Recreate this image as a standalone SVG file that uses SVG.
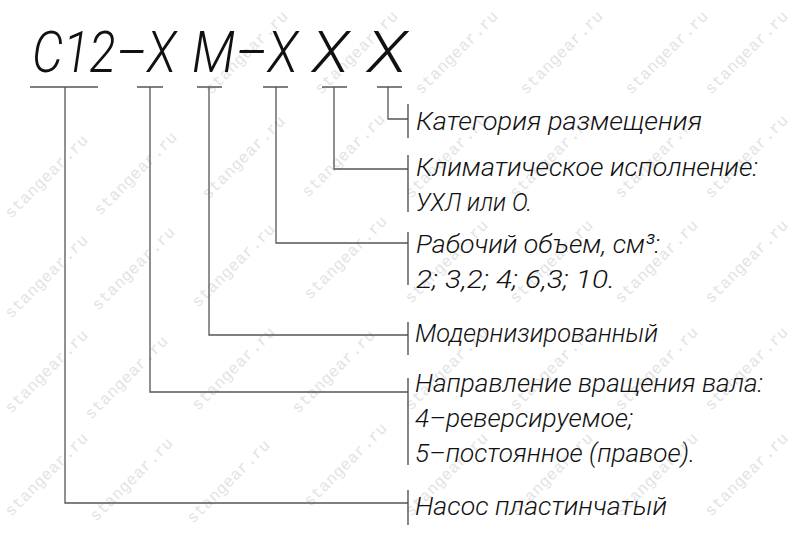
<svg xmlns="http://www.w3.org/2000/svg" width="800" height="555" viewBox="0 0 800 555">
<style>
.wm{font-family:"Liberation Mono","DejaVu Sans Mono",monospace;font-size:16px;fill:#e3e3e3}
.ttl{font-family:Roboto,"Liberation Sans",Arial,sans-serif;font-style:italic;font-weight:300;font-size:58px;fill:#111}
.t{font-family:Roboto,"Liberation Sans",Arial,sans-serif;font-style:italic;font-weight:300;font-size:26.5px;fill:#111}
.ln{stroke:#555;stroke-width:1.3;fill:none}
.bar{stroke:#444;stroke-width:1.3;fill:none}
</style>
<rect width="800" height="555" fill="#fff"/>
<g id="watermarks">
<text class="wm" x="250" y="56" text-anchor="middle" textLength="110" transform="rotate(-45 250 56)">stangear.ru</text>
<text class="wm" x="360" y="56" text-anchor="middle" textLength="110" transform="rotate(-45 360 56)">stangear.ru</text>
<text class="wm" x="460" y="56" text-anchor="middle" textLength="110" transform="rotate(-45 460 56)">stangear.ru</text>
<text class="wm" x="565" y="56" text-anchor="middle" textLength="110" transform="rotate(-45 565 56)">stangear.ru</text>
<text class="wm" x="670" y="56" text-anchor="middle" textLength="110" transform="rotate(-45 670 56)">stangear.ru</text>
<text class="wm" x="750" y="56" text-anchor="middle" textLength="110" transform="rotate(-45 750 56)">stangear.ru</text>
<text class="wm" x="50" y="180" text-anchor="middle" textLength="110" transform="rotate(-45 50 180)">stangear.ru</text>
<text class="wm" x="139" y="177" text-anchor="middle" textLength="110" transform="rotate(-45 139 177)">stangear.ru</text>
<text class="wm" x="247" y="161" text-anchor="middle" textLength="110" transform="rotate(-45 247 161)">stangear.ru</text>
<text class="wm" x="347" y="159" text-anchor="middle" textLength="110" transform="rotate(-45 347 159)">stangear.ru</text>
<text class="wm" x="450" y="160" text-anchor="middle" textLength="110" transform="rotate(-45 450 160)">stangear.ru</text>
<text class="wm" x="555" y="160" text-anchor="middle" textLength="110" transform="rotate(-45 555 160)">stangear.ru</text>
<text class="wm" x="660" y="160" text-anchor="middle" textLength="110" transform="rotate(-45 660 160)">stangear.ru</text>
<text class="wm" x="750" y="160" text-anchor="middle" textLength="110" transform="rotate(-45 750 160)">stangear.ru</text>
<text class="wm" x="50" y="280" text-anchor="middle" textLength="110" transform="rotate(-45 50 280)">stangear.ru</text>
<text class="wm" x="137" y="272" text-anchor="middle" textLength="110" transform="rotate(-45 137 272)">stangear.ru</text>
<text class="wm" x="237" y="269" text-anchor="middle" textLength="110" transform="rotate(-45 237 269)">stangear.ru</text>
<text class="wm" x="349" y="261" text-anchor="middle" textLength="110" transform="rotate(-45 349 261)">stangear.ru</text>
<text class="wm" x="450" y="265" text-anchor="middle" textLength="110" transform="rotate(-45 450 265)">stangear.ru</text>
<text class="wm" x="555" y="265" text-anchor="middle" textLength="110" transform="rotate(-45 555 265)">stangear.ru</text>
<text class="wm" x="660" y="265" text-anchor="middle" textLength="110" transform="rotate(-45 660 265)">stangear.ru</text>
<text class="wm" x="750" y="265" text-anchor="middle" textLength="110" transform="rotate(-45 750 265)">stangear.ru</text>
<text class="wm" x="50" y="375" text-anchor="middle" textLength="110" transform="rotate(-45 50 375)">stangear.ru</text>
<text class="wm" x="130" y="381" text-anchor="middle" textLength="110" transform="rotate(-45 130 381)">stangear.ru</text>
<text class="wm" x="237" y="372" text-anchor="middle" textLength="110" transform="rotate(-45 237 372)">stangear.ru</text>
<text class="wm" x="337" y="375" text-anchor="middle" textLength="110" transform="rotate(-45 337 375)">stangear.ru</text>
<text class="wm" x="450" y="372" text-anchor="middle" textLength="110" transform="rotate(-45 450 372)">stangear.ru</text>
<text class="wm" x="555" y="372" text-anchor="middle" textLength="110" transform="rotate(-45 555 372)">stangear.ru</text>
<text class="wm" x="660" y="372" text-anchor="middle" textLength="110" transform="rotate(-45 660 372)">stangear.ru</text>
<text class="wm" x="750" y="372" text-anchor="middle" textLength="110" transform="rotate(-45 750 372)">stangear.ru</text>
<text class="wm" x="50" y="478" text-anchor="middle" textLength="110" transform="rotate(-45 50 478)">stangear.ru</text>
<text class="wm" x="135" y="483" text-anchor="middle" textLength="110" transform="rotate(-45 135 483)">stangear.ru</text>
<text class="wm" x="232" y="485" text-anchor="middle" textLength="110" transform="rotate(-45 232 485)">stangear.ru</text>
<text class="wm" x="349" y="468" text-anchor="middle" textLength="110" transform="rotate(-45 349 468)">stangear.ru</text>
<text class="wm" x="450" y="478" text-anchor="middle" textLength="110" transform="rotate(-45 450 478)">stangear.ru</text>
<text class="wm" x="555" y="478" text-anchor="middle" textLength="110" transform="rotate(-45 555 478)">stangear.ru</text>
<text class="wm" x="660" y="478" text-anchor="middle" textLength="110" transform="rotate(-45 660 478)">stangear.ru</text>
<text class="wm" x="750" y="478" text-anchor="middle" textLength="110" transform="rotate(-45 750 478)">stangear.ru</text>
</g>
<g id="title">
<text class="ttl" x="32" y="72" textLength="144" lengthAdjust="spacingAndGlyphs">С12–Х</text>
<text class="ttl" x="192" y="72" textLength="106" lengthAdjust="spacingAndGlyphs">М–Х</text>
<text class="ttl" x="312" y="72" textLength="37" lengthAdjust="spacingAndGlyphs">Х</text>
<text class="ttl" x="367" y="72" textLength="40" lengthAdjust="spacingAndGlyphs">Х</text>
</g>
<g id="connectors" class="ln">
<path d="M30 87H98M137 87H163M197 87H222M263 87H288M322 87H347M377 87H402"/>
<path d="M388 87V119H408"/>
<path d="M334 87V169H408"/>
<path d="M276 87V243H408"/>
<path d="M209 87V335H408"/>
<path d="M150 87V392H408"/>
<path d="M65 87V503H408"/>
</g>
<g id="node-category">
<line class="bar" x1="408" y1="104" x2="408" y2="138"/>
<text class="t" x="416" y="130" textLength="286" lengthAdjust="spacingAndGlyphs">Категория размещения</text>
</g>
<g id="node-climate">
<line class="bar" x1="408" y1="155" x2="408" y2="212"/>
<text class="t" x="416" y="176" textLength="342" lengthAdjust="spacingAndGlyphs">Климатическое исполнение:</text>
<text class="t" x="416" y="211" textLength="116" lengthAdjust="spacingAndGlyphs">УХЛ или О.</text>
</g>
<g id="node-volume">
<line class="bar" x1="408" y1="232" x2="408" y2="285"/>
<text class="t" x="416" y="253" textLength="244" lengthAdjust="spacingAndGlyphs">Рабочий объем, см³:</text>
<text class="t" x="416" y="288" textLength="199" lengthAdjust="spacingAndGlyphs">2; 3,2; 4; 6,3; 10.</text>
</g>
<g id="node-modern">
<line class="bar" x1="408" y1="322" x2="408" y2="355"/>
<text class="t" x="415" y="342" textLength="243" lengthAdjust="spacingAndGlyphs">Модернизированный</text>
</g>
<g id="node-rotation">
<line class="bar" x1="408" y1="378" x2="408" y2="465"/>
<text class="t" x="415" y="392" textLength="348" lengthAdjust="spacingAndGlyphs">Направление вращения вала:</text>
<text class="t" x="415" y="427" textLength="218" lengthAdjust="spacingAndGlyphs">4–реверсируемое;</text>
<text class="t" x="415" y="462" textLength="280" lengthAdjust="spacingAndGlyphs">5–постоянное (правое).</text>
</g>
<g id="node-pump">
<line class="bar" x1="408" y1="490" x2="408" y2="525"/>
<text class="t" x="415" y="515" textLength="252" lengthAdjust="spacingAndGlyphs">Насос пластинчатый</text>
</g>
</svg>
